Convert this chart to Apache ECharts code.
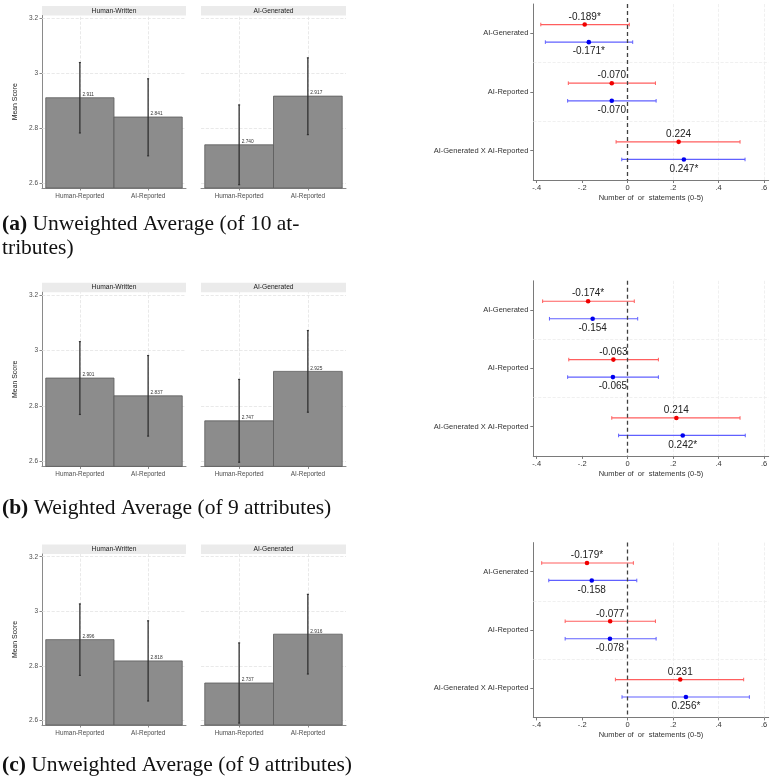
<!DOCTYPE html>
<html>
<head>
<meta charset="utf-8">
<script src="https://cdn.jsdelivr.net/npm/echarts@6/dist/echarts.min.js"></script>
<style>
  html, body { margin: 0; padding: 0; background: #fff; }
  #main { width: 775px; height: 783px; }
</style>
</head>
<body>
<div id="main"></div>
<script>
// ---- data ----
const facets = ['Human-Written', 'AI-Generated'];
const barCats = ['Human-Reported', 'AI-Reported'];
const meanTicks = [2.6, 2.8, 3, 3.2];
const coefCats = ['AI-Generated', 'AI-Reported', 'AI-Generated X AI-Reported'];
const coefTicks = [-0.4, -0.2, 0, 0.2, 0.4, 0.6];

// bar order: HW/Human-Reported, HW/AI-Reported, AG/Human-Reported, AG/AI-Reported
const meanA = [2.911, 2.841, 2.740, 2.917];
const lowA = [2.783, 2.700, 2.595, 2.777];
const highA = [3.039, 2.980, 2.885, 3.056];
const meanB = [2.901, 2.837, 2.747, 2.925];
const lowB = [2.770, 2.692, 2.598, 2.778];
const highB = [3.032, 2.982, 2.896, 3.072];
const meanC = [2.896, 2.818, 2.737, 2.916];
const lowC = [2.765, 2.671, 2.590, 2.770];
const highC = [3.027, 2.965, 2.884, 3.062];

const redA = [-0.189, -0.070, 0.224];
const redLowA = [-0.382, -0.261, -0.051];
const redHighA = [0.007, 0.122, 0.494];
const redLabA = ['-0.189*', '-0.070', '0.224'];
const blueA = [-0.171, -0.070, 0.247];
const blueLowA = [-0.362, -0.264, -0.026];
const blueHighA = [0.022, 0.125, 0.516];
const blueLabA = ['-0.171*', '-0.070', '0.247*'];

const redB = [-0.174, -0.063, 0.214];
const redLowB = [-0.374, -0.259, -0.070];
const redHighB = [0.029, 0.135, 0.494];
const redLabB = ['-0.174*', '-0.063', '0.214'];
const blueB = [-0.154, -0.065, 0.242];
const blueLowB = [-0.344, -0.264, -0.040];
const blueHighB = [0.044, 0.135, 0.517];
const blueLabB = ['-0.154', '-0.065', '0.242*'];

const redC = [-0.179, -0.077, 0.231];
const redLowC = [-0.378, -0.275, -0.054];
const redHighC = [0.025, 0.122, 0.510];
const redLabC = ['-0.179*', '-0.077', '0.231'];
const blueC = [-0.158, -0.078, 0.256];
const blueLowC = [-0.347, -0.275, -0.025];
const blueHighC = [0.040, 0.125, 0.535];
const blueLabC = ['-0.158', '-0.078', '0.256*'];

// ---- layout ----
const yMin = 2.583, yMax = 3.21;
const SANS = 'Liberation Sans';
const rows = [
  { mean: meanA, low: lowA, high: highA,
    red: [redA, redLowA, redHighA, redLabA], blue: [blueA, blueLowA, blueHighA, blueLabA],
    barTop: 15.5, barBottom: 188, coefTop: 4, coefBottom: 180,
    caption: [['{b|(a)} Unweighted Average (of 10 at-', 213], ['tributes)', 237]] },
  { mean: meanB, low: lowB, high: highB,
    red: [redB, redLowB, redHighB, redLabB], blue: [blueB, blueLowB, blueHighB, blueLabB],
    barTop: 292.2, barBottom: 466.4, coefTop: 280.8, coefBottom: 455.9,
    caption: [['{b|(b)} Weighted Average (of 9 attributes)', 497]] },
  { mean: meanC, low: lowC, high: highC,
    red: [redC, redLowC, redHighC, redLabC], blue: [blueC, blueLowC, blueHighC, blueLabC],
    barTop: 554, barBottom: 725, coefTop: 542.6, coefBottom: 717.4,
    caption: [['{b|(c)} Unweighted Average (of 9 attributes)', 754]] }
];
const barPanels = [{ left: 42, width: 144 }, { left: 201, width: 145 }];
const coefPanel = { left: 533.3, width: 235.4 };

const fmtCoef = v => v === 0 ? '0' : (v < 0 ? '-' : '') + String(Math.abs(v)).replace(/^0/, '');

function renderBar(params, api) {
  const x = api.value(0), m = api.value(1), lo = api.value(2), hi = api.value(3);
  const tl = api.coord([x - 0.5, m]);
  const br = api.coord([x + 0.5, yMin]);
  const pLo = api.coord([x, lo]);
  const pHi = api.coord([x, hi]);
  const cx = pLo[0];
  return {
    type: 'group',
    children: [
      { type: 'rect', shape: { x: tl[0], y: tl[1], width: br[0] - tl[0], height: br[1] - tl[1] },
        style: { fill: '#8c8c8c', stroke: '#5a5a5a', lineWidth: 0.8 } },
      { type: 'line', shape: { x1: cx, y1: pLo[1], x2: cx, y2: pHi[1] },
        style: { stroke: '#303030', lineWidth: 1.3 } },
      { type: 'line', shape: { x1: cx - 1, y1: pLo[1], x2: cx + 1, y2: pLo[1] },
        style: { stroke: '#303030', lineWidth: 1.2 } },
      { type: 'line', shape: { x1: cx - 1, y1: pHi[1], x2: cx + 1, y2: pHi[1] },
        style: { stroke: '#303030', lineWidth: 1.2 } },
      { type: 'text', x: cx + 2.5, y: tl[1] - 0.5,
        style: { text: m.toFixed(3), fontSize: 4.8, fontFamily: SANS, fill: '#333',
                 align: 'left', verticalAlign: 'bottom' } }
    ]
  };
}

function coefRenderer(labels, off, lineColor, dotColor, labelDy) {
  return function (params, api) {
    const y = api.value(1) + off;
    const pL = api.coord([api.value(2), y]);
    const pR = api.coord([api.value(3), y]);
    const pM = api.coord([api.value(0), y]);
    return {
      type: 'group',
      children: [
        { type: 'line', shape: { x1: pL[0], y1: pL[1], x2: pR[0], y2: pR[1] },
          style: { stroke: lineColor, lineWidth: 1.2 } },
        { type: 'line', shape: { x1: pL[0], y1: pL[1] - 1.8, x2: pL[0], y2: pL[1] + 1.8 },
          style: { stroke: lineColor, lineWidth: 1 } },
        { type: 'line', shape: { x1: pR[0], y1: pR[1] - 1.8, x2: pR[0], y2: pR[1] + 1.8 },
          style: { stroke: lineColor, lineWidth: 1 } },
        { type: 'circle', shape: { cx: pM[0], cy: pM[1], r: 2.3 }, style: { fill: dotColor } },
        { type: 'text', x: pM[0], y: pM[1] + labelDy,
          style: { text: labels[params.dataIndex], fontSize: 10, fontFamily: SANS, fill: '#222',
                   align: 'center', verticalAlign: 'middle' } }
      ]
    };
  };
}

const grid = [], xAxis = [], yAxis = [], series = [], graphic = [];

rows.forEach((row, r) => {
  // bar facets
  barPanels.forEach((p, f) => {
    const gi = grid.length;
    grid.push({ left: p.left, width: p.width, top: row.barTop, height: row.barBottom - row.barTop });
    xAxis.push({
      gridIndex: gi, type: 'value', min: 0.445, max: 2.555,
      axisLine: { show: true, onZero: false, lineStyle: { color: '#8a8a8a', width: 1 } },
      axisTick: { show: true, customValues: [1, 2], length: 2.5, lineStyle: { color: '#8a8a8a' } },
      axisLabel: { customValues: [1, 2], formatter: v => barCats[Math.round(v) - 1],
                   fontSize: 6.4, fontFamily: SANS, color: '#4d4d4d', margin: 5 },
      splitLine: { show: false }
    });
    yAxis.push(f === 0 ? {
      gridIndex: gi, type: 'value', min: yMin, max: yMax,
      name: 'Mean Score', nameLocation: 'middle', nameGap: 23,
      nameTextStyle: { fontSize: 6.9, fontFamily: SANS, color: '#222' },
      axisLine: { show: true, onZero: false, lineStyle: { color: '#8a8a8a', width: 1 } },
      axisTick: { show: true, customValues: meanTicks, length: 2.5, lineStyle: { color: '#8a8a8a' } },
      axisLabel: { customValues: meanTicks, formatter: v => String(v),
                   fontSize: 6.5, fontFamily: SANS, color: '#4d4d4d', margin: 4 },
      splitLine: { show: false }
    } : {
      gridIndex: gi, type: 'value', min: yMin, max: yMax,
      axisLine: { show: false, onZero: false }, axisTick: { show: false }, axisLabel: { show: false },
      splitLine: { show: false }
    });
    const data = [0, 1].map(i => {
      const k = f * 2 + i;
      return [i + 1, row.mean[k], row.low[k], row.high[k]];
    });
    series.push({
      type: 'custom', xAxisIndex: gi, yAxisIndex: gi, data, renderItem: renderBar, z: 3,
      silent: true,
      markLine: {
        silent: true, symbol: 'none', z: 1, animation: false,
        label: { show: false },
        lineStyle: { type: 'dashed', color: '#e3e3e3', width: 0.8 },
        data: meanTicks.map(v => ({ yAxis: v })).concat([1, 2].map(v => ({ xAxis: v })))
      }
    });
    // facet strip
    graphic.push({
      type: 'rect', shape: { x: p.left, y: row.barTop - 9.5, width: p.width, height: 9.5 },
      style: { fill: '#ebebeb' }, silent: true
    });
    graphic.push({
      type: 'text', x: p.left + p.width / 2, y: row.barTop - 4.75, silent: true,
      style: { text: facets[f], fontSize: 6.7, fontFamily: SANS, fill: '#1a1a1a',
               align: 'center', verticalAlign: 'middle' }
    });
  });

  // coefficient plot
  const gi = grid.length;
  grid.push({ left: coefPanel.left, width: coefPanel.width, top: row.coefTop,
              height: row.coefBottom - row.coefTop });
  xAxis.push({
    gridIndex: gi, type: 'value', min: -0.415, max: 0.62,
    name: 'Number of  or  statements (0-5)', nameLocation: 'middle', nameGap: 14,
    nameTextStyle: { fontSize: 7.5, fontFamily: SANS, color: '#333' },
    axisLine: { show: true, onZero: false, lineStyle: { color: '#7a7a7a', width: 1 } },
    axisTick: { show: true, customValues: coefTicks, length: 3, lineStyle: { color: '#7a7a7a' } },
    axisLabel: { customValues: coefTicks, formatter: fmtCoef,
                 fontSize: 7.5, fontFamily: SANS, color: '#333', margin: 4 },
    splitLine: { show: false }
  });
  yAxis.push({
    gridIndex: gi, type: 'value', min: 0.5, max: 3.5, inverse: true,
    axisLine: { show: true, onZero: false, lineStyle: { color: '#7a7a7a', width: 1 } },
    axisTick: { show: true, customValues: [1, 2, 3], length: 3, lineStyle: { color: '#7a7a7a' } },
    axisLabel: { customValues: [1, 2, 3], formatter: v => coefCats[Math.round(v) - 1],
                 fontSize: 7.5, fontFamily: SANS, color: '#333', margin: 5 },
    splitLine: { show: false }
  });
  const mk = (s) => s[0].map((v, i) => [v, i + 1, s[1][i], s[2][i]]);
  series.push({
    type: 'custom', xAxisIndex: gi, yAxisIndex: gi, data: mk(row.red), z: 3, silent: true,
    encode: { x: [0, 2, 3], y: 1 },
    renderItem: coefRenderer(row.red[3], -0.15, '#ff5e5e', '#f00000', -7.5),
    markLine: {
      silent: true, symbol: 'none', z: 1, animation: false,
      label: { show: false },
      lineStyle: { type: 'dashed', color: '#ececec', width: 0.8 },
      data: [{ yAxis: 1.5 }, { yAxis: 2.5 }].concat(coefTicks.filter(v => v > 0).map(v => ({ xAxis: v })))
    }
  });
  series.push({
    type: 'custom', xAxisIndex: gi, yAxisIndex: gi, data: mk(row.blue), z: 3, silent: true,
    encode: { x: [0, 2, 3], y: 1 },
    renderItem: coefRenderer(row.blue[3], 0.15, '#6060ff', '#0000f0', 9.5),
    markLine: {
      silent: true, symbol: 'none', z: 6, animation: false,
      label: { show: false },
      lineStyle: { type: [4, 3], color: '#404040', width: 1.3 },
      data: [{ xAxis: 0 }]
    }
  });

  // caption
  row.caption.forEach(([txt, top]) => {
    graphic.push({
      type: 'text', x: 2, y: top, silent: true,
      style: { text: txt, fontSize: 21.5, fontFamily: 'Liberation Serif', fill: '#111',
               verticalAlign: 'top',
               rich: { b: { fontSize: 21.5, fontFamily: 'Liberation Serif', fontWeight: 'bold', fill: '#111' } } }
    });
  });
});

const chart = echarts.init(document.getElementById('main'), null, { renderer: 'canvas' });
chart.setOption({
  animation: false,
  backgroundColor: '#fff',
  grid, xAxis, yAxis, series, graphic
});
</script>
</body>
</html>
